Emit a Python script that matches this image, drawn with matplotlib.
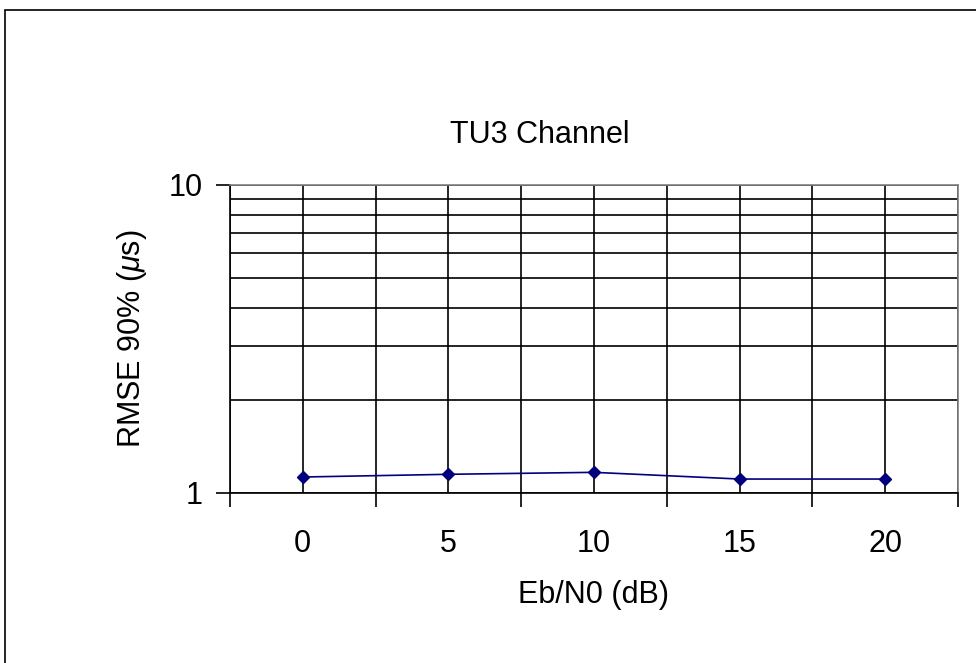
import numpy as np
import matplotlib
matplotlib.use("Agg")
import matplotlib.pyplot as plt
from matplotlib.ticker import FixedLocator, NullFormatter, FixedFormatter
from matplotlib.patches import Rectangle

# data
categories = ["0", "5", "10", "15", "20"]
rmse_90 = [1.127, 1.15, 1.167, 1.11, 1.11]

plt.rcParams["font.family"] = ["Liberation Sans", "DejaVu Sans"]
plt.rcParams["mathtext.fontset"] = "custom"
plt.rcParams["mathtext.it"] = "Liberation Sans:italic"
plt.rcParams["mathtext.rm"] = "Liberation Sans"

FS = 22
W, H = 976, 663
fig = plt.figure(figsize=(W / 100, H / 100), dpi=100)

# outer chart-area frame (left and top edges visible)
fig.patches.append(Rectangle((4.5 / W, -0.1), 1.2, 1 - 10.5 / H + 0.1,
                             transform=fig.transFigure, fill=False,
                             edgecolor="black", lw=1.2))

left, right, top, bottom = 230, 958, 185, 493
ax = fig.add_axes([left / W, 1 - bottom / H, (right - left) / W, (bottom - top) / H])

x = np.arange(len(categories))
ax.plot(x, rmse_90, color="#000080", lw=1.2, marker="D", markersize=6.5, zorder=5)

ax.set_yscale("log")
ax.set_ylim(1, 10)
ax.set_xlim(-0.5, len(categories) - 0.5)

# y axis: major ticks at 1 and 10, minor gridlines 2..9
ax.yaxis.set_major_locator(FixedLocator([1, 10]))
ax.yaxis.set_major_formatter(FixedFormatter(["1", "10"]))
ax.yaxis.set_minor_locator(FixedLocator(list(range(2, 10))))
ax.yaxis.set_minor_formatter(NullFormatter())
ax.tick_params(axis="y", which="major", direction="out", length=10, width=1.2,
               labelsize=FS, pad=9.5, color="black")
ax.tick_params(axis="y", which="minor", length=0)
ax.grid(True, axis="y", which="both", color="black", lw=1.2)

# x axis: labels at category centres, tick marks on the boundaries
ax.set_xticks(x)
ax.set_xticklabels(categories)
ax.set_xticks(np.arange(-0.5, len(categories)), minor=True)
ax.tick_params(axis="x", which="major", length=0, labelsize=FS, pad=26)
ax.tick_params(axis="x", which="minor", direction="out", length=10, width=1.2)
ax.grid(True, axis="x", which="both", color="black", lw=1.2)
ax.set_axisbelow(True)

for s in ("left", "bottom"):
    ax.spines[s].set_color("black")
    ax.spines[s].set_linewidth(1.2)
for s in ("top", "right"):
    ax.spines[s].set_color("#808080")
    ax.spines[s].set_linewidth(1.2)

ax.set_xlabel("Eb/N0 (dB)", fontsize=FS, labelpad=15)
ax.set_ylabel(r"RMSE 90% ($\mu$s)", fontsize=FS, labelpad=14)
fig.text(540 / W, 1 - 135 / H, "TU3 Channel", fontsize=FS,
         ha="center", va="center")

fig.savefig("out.png", dpi=100)
